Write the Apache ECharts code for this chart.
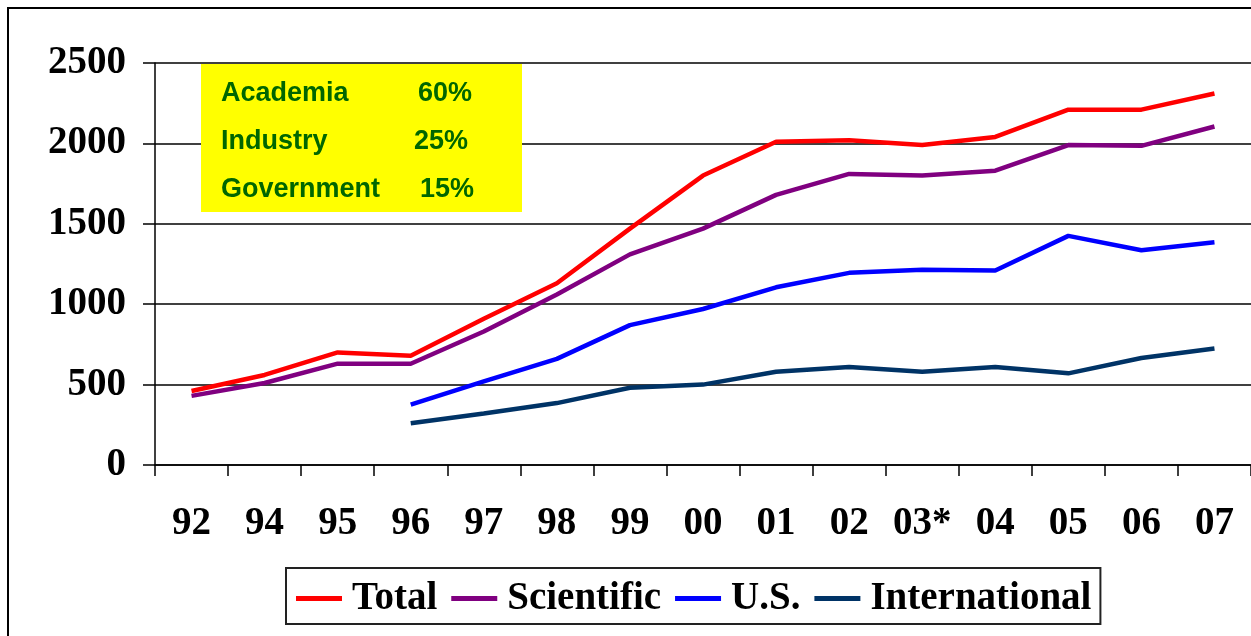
<!DOCTYPE html>
<html>
<head>
<meta charset="utf-8">
<title>Growth chart</title>
<script src="https://cdn.jsdelivr.net/npm/echarts@6/dist/echarts.min.js"></script>
<style>
  html, body { margin: 0; padding: 0; background: #fff; }
  #chart { width: 1251px; height: 636px; }
</style>
</head>
<body>
<div id="chart"></div>
<script>
// ==================== 数据 ====================

const years = ['92', '94', '95', '96', '97', '98', '99', '00', '01', '02', '03*', '04', '05', '06', '07'];

const totalValues         = [460, 560, 700, 680, 910, 1130, 1470, 1800, 2010, 2020, 1990, 2040, 2210, 2210, 2310];
const scientificValues    = [430, 510, 630, 630, 830, 1060, 1310, 1470, 1680, 1810, 1800, 1830, 1990, 1985, 2105];
const usValues            = [null, null, null, 375, 520, 660, 870, 970, 1105, 1195, 1215, 1210, 1425, 1335, 1385];
const internationalValues = [null, null, null, 260, 320, 385, 480, 500, 580, 610, 580, 610, 570, 665, 725];

const yTicks = [0, 500, 1000, 1500, 2000, 2500];

const shareLabels = ['Academia', 'Industry', 'Government'];
const shareValues = ['60%', '25%', '15%'];

// ==================== 配置常量 ====================

const CONFIG = {
    SERIF: '"Liberation Serif", "Times New Roman", serif',
    SANS: '"Liberation Sans", Arial, sans-serif',
    COLORS: {
        Total: '#ff0000',
        Scientific: '#800080',
        'U.S.': '#0000ff',
        International: '#003366'
    },
    GREEN: '#006600'
};

// ==================== 图表 ====================

function lineSeries(name, data) {
    return {
        name: name,
        type: 'line',
        data: data,
        symbol: 'none',
        connectNulls: false,
        lineStyle: { color: CONFIG.COLORS[name], width: 4.5 },
        itemStyle: { color: CONFIG.COLORS[name] },
        emphasis: { disabled: true },
        z: 3
    };
}

// 黄色说明框
const boxTexts = [];
shareLabels.forEach((label, i) => {
    const y = 91 + i * 48;
    boxTexts.push({
        type: 'text', left: 221, top: y - 11, z: 11,
        style: { text: label, font: 'bold 27px ' + CONFIG.SANS, fill: CONFIG.GREEN }
    });
    boxTexts.push({
        type: 'text', left: [418, 414, 420][i], top: y - 11, z: 11,
        style: { text: shareValues[i], font: 'bold 27px ' + CONFIG.SANS, fill: CONFIG.GREEN }
    });
});

const chart = echarts.init(document.getElementById('chart'), null, { renderer: 'canvas' });

chart.setOption({
    backgroundColor: '#fff',
    animation: false,
    grid: { left: 155, right: 0, top: 63, bottom: 171, containLabel: false },
    legend: {
        left: 286,
        top: 568,
        padding: [11, 9, 6, 10],
        itemGap: 14,
        itemWidth: 46,
        itemHeight: 5,
        icon: 'rect',
        borderColor: '#222',
        borderWidth: 2,
        selectedMode: false,
        textStyle: {
            fontFamily: CONFIG.SERIF,
            fontWeight: 'bold',
            fontSize: 39,
            color: '#000',
            padding: [9, 0, 0, 5]
        },
        data: ['Total', 'Scientific', 'U.S.', 'International']
    },
    xAxis: {
        type: 'category',
        data: years,
        boundaryGap: true,
        axisLine: { show: true, lineStyle: { color: '#000', width: 1.5 } },
        axisTick: { show: true, length: 11, interval: 0, lineStyle: { color: '#000', width: 1.5 } },
        axisLabel: {
            interval: 0,
            margin: 39,
            fontFamily: CONFIG.SERIF,
            fontWeight: 'bold',
            fontSize: 39,
            color: '#000'
        },
        splitLine: { show: false }
    },
    yAxis: {
        type: 'value',
        min: yTicks[0],
        max: yTicks[yTicks.length - 1],
        interval: 500,
        axisLine: { show: true, lineStyle: { color: '#000', width: 1.5 } },
        axisTick: { show: true, length: 12, lineStyle: { color: '#000', width: 1.5 } },
        axisLabel: {
            margin: 29,
            padding: [6, 0, 0, 0],
            formatter: v => String(v),
            fontFamily: CONFIG.SERIF,
            fontWeight: 'bold',
            fontSize: 39,
            color: '#000'
        },
        splitLine: { show: true, lineStyle: { color: '#000', width: 1.5 } }
    },
    series: [
        lineSeries('Total', totalValues),
        lineSeries('Scientific', scientificValues),
        lineSeries('U.S.', usValues),
        lineSeries('International', internationalValues)
    ],
    graphic: [
        {
            type: 'rect', z: 0, silent: true,
            shape: { x: 8, y: 8, width: 1400, height: 800 },
            style: { fill: 'none', stroke: '#000', lineWidth: 2 }
        },
        {
            type: 'rect', z: 10, silent: true,
            shape: { x: 201, y: 64, width: 321, height: 148 },
            style: { fill: '#ffff00' }
        }
    ].concat(boxTexts)
});
</script>
</body>
</html>
